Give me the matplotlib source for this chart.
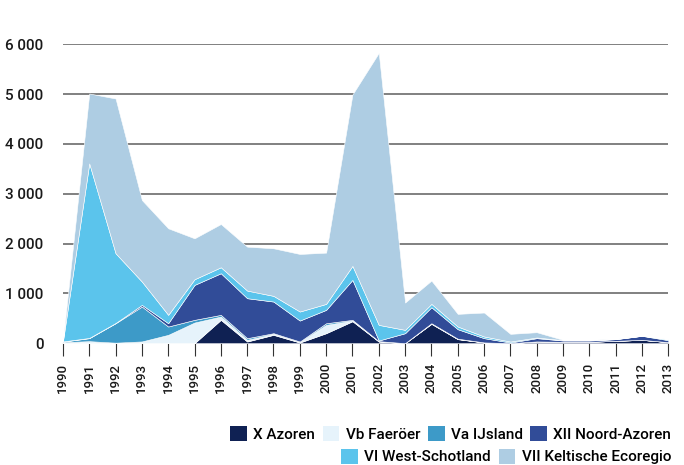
import matplotlib
matplotlib.use("Agg")
from matplotlib import pyplot as plt
from matplotlib.patches import Patch
import numpy as np

plt.rcParams['font.family'] = ['Roboto', 'DejaVu Sans']
plt.rcParams['font.weight'] = 'medium'

# jaren
jaren = list(range(1990, 2014))

# waarden per ecoregio (gestapeld, van onder naar boven)
x_azoren = [0, 0, 0, 0, 0, 0, 468, 33, 167, 13, 200, 440, 33, 0, 387, 80, 13, 0, 33, 27, 27, 47, 67, 20]
vb_faeroer = [20, 40, 10, 35, 167, 414, 66, 34, 20, 7, 167, 14, 2, 0, 8, 5, 2, 0, 2, 0, 0, 0, 0, 0]
va_ijsland = [10, 60, 390, 700, 167, 54, 34, 33, 13, 13, 33, 14, 5, 0, 5, 5, 0, 0, 0, 0, 0, 0, 0, 0]
xii_noord_azoren = [5, 5, 5, 33, 66, 701, 835, 802, 635, 421, 268, 801, 13, 200, 321, 190, 85, 13, 65, 26, 26, 33, 80, 40]
vi_west_schotland = [5, 3502, 1399, 468, 168, 114, 120, 153, 114, 181, 120, 281, 314, 67, 67, 54, 34, 20, 14, 7, 7, 3, 3, 20]
vii_keltisch = [5, 1403, 3106, 1636, 1737, 821, 868, 882, 955, 1155, 1029, 3440, 5458, 548, 468, 254, 481, 154, 106, 7, 7, 4, 0, 2]

namen = ["X Azoren", "Vb Faeröer", "Va IJsland", "XII Noord-Azoren",
         "VI West-Schotland", "VII Keltische Ecoregio"]
kleuren = ["#0f2153", "#e6f3fb", "#3d9ac8", "#314c98", "#5bc4ec", "#aecde3"]

fig = plt.figure(figsize=(6.84, 4.65), dpi=100)
ax = fig.add_axes([0.092, 0.262, 0.885, 0.643])

ax.stackplot(jaren, x_azoren, vb_faeroer, va_ijsland, xii_noord_azoren,
             vi_west_schotland, vii_keltisch, colors=kleuren,
             edgecolor="white", linewidth=0.4, zorder=3)

ax.set_xlim(1990, 2013)
ax.set_ylim(0, 6000)
ax.set_yticks(range(0, 6001, 1000))
ax.set_yticklabels(["0", "1 000", "2 000", "3 000", "4 000", "5 000", "6 000"], fontsize=11)
ax.yaxis.grid(True, color="#6b6b6b", linewidth=1.2, zorder=1)
ax.set_axisbelow(True)
ax.tick_params(axis="y", length=0, pad=14, labelcolor="#1a1a1a")

ax.set_xticks(jaren)
ax.set_xticklabels([str(j) for j in jaren], rotation=90, fontsize=9.5)
ax.tick_params(axis="x", length=9, width=0.8, color="#333333", pad=5, labelcolor="#1a1a1a")

for s in ax.spines.values():
    s.set_visible(False)

handles = [Patch(facecolor=c, edgecolor="none") for c in kleuren]
leg1 = fig.legend(handles[:4], namen[:4], ncol=4, loc="center right",
                  bbox_to_anchor=(0.99, 0.067), frameon=False, fontsize=11,
                  handlelength=1.1, handleheight=1.1, handletextpad=0.4,
                  columnspacing=0.5, borderaxespad=0)
leg2 = fig.legend(handles[4:], namen[4:], ncol=2, loc="center right",
                  bbox_to_anchor=(0.99, 0.018), frameon=False, fontsize=11,
                  handlelength=1.1, handleheight=1.1, handletextpad=0.4,
                  columnspacing=0.5, borderaxespad=0)

fig.savefig("out.png", dpi=100)
